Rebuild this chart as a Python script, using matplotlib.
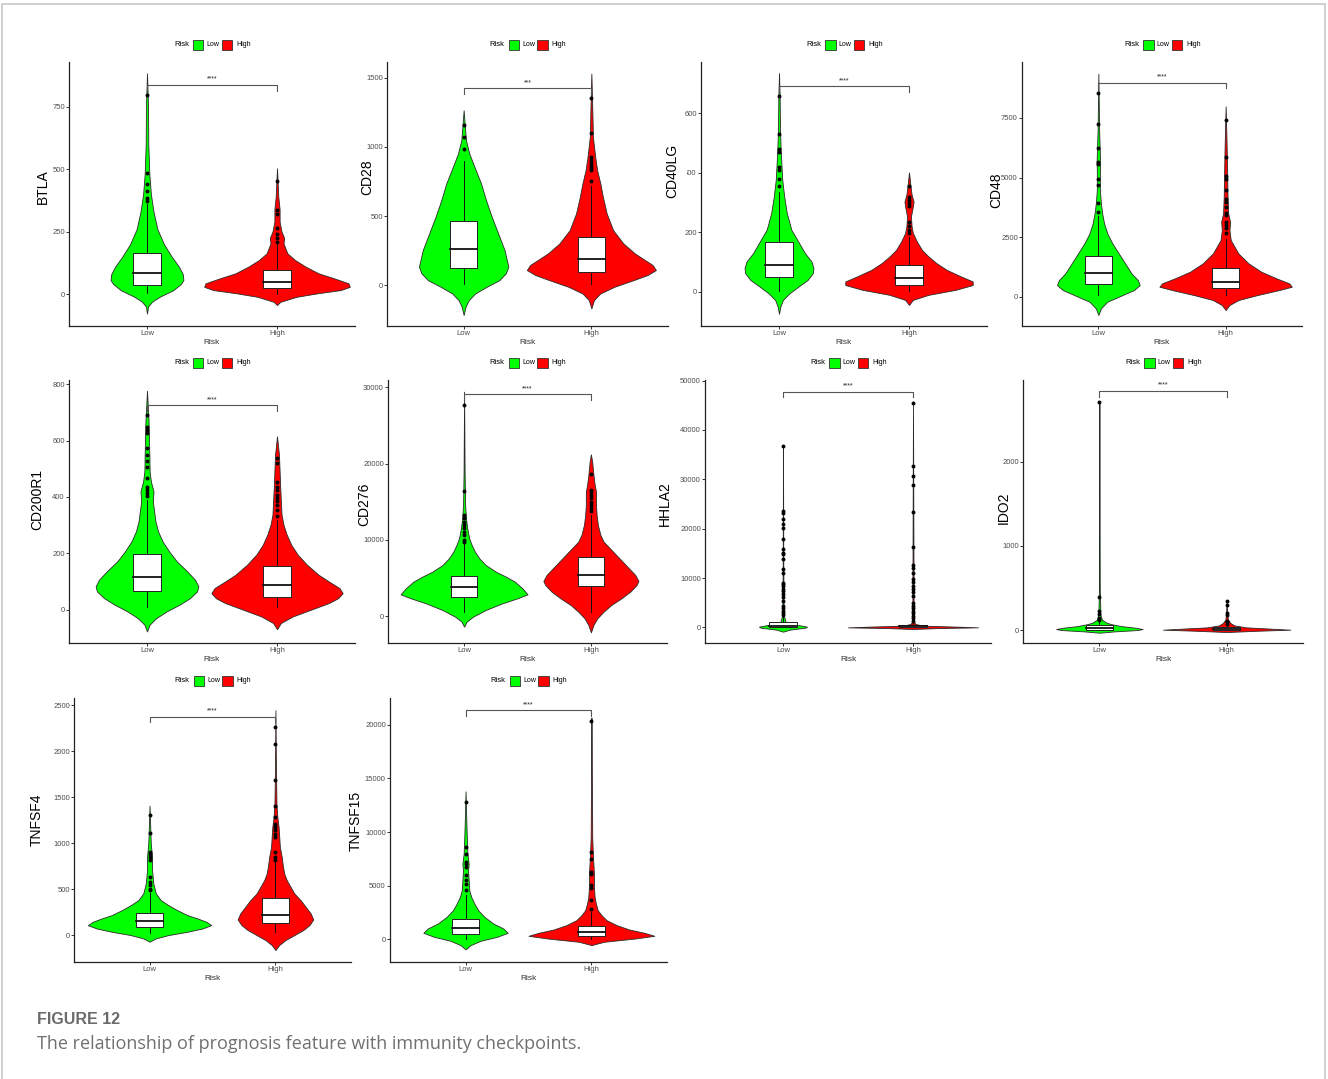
import matplotlib
matplotlib.use("Agg")
import matplotlib.pyplot as plt
from matplotlib.patches import Rectangle

# ==================================
# DATA
# ==================================
genes = ["BTLA", "CD28", "CD40LG", "CD48", "CD200R1",
         "CD276", "HHLA2", "IDO2", "TNFSF4", "TNFSF15"]
groups = ["Low", "High"]

y_limits = [(-128, 930), (-293, 1612), (-116, 773), (-1229, 9846), (-118, 815),
            (-3540, 30960), (-3170, 50130), (-154, 2968), (-293, 2579), (-2100, 22480)]

y_ticks = [[0, 250, 500, 750],
           [0, 500, 1000, 1500],
           [0, 200, 400, 600],
           [0, 2500, 5000, 7500],
           [0, 200, 400, 600, 800],
           [0, 10000, 20000, 30000],
           [0, 10000, 20000, 30000, 40000, 50000],
           [0, 1000, 2000],
           [0, 500, 1000, 1500, 2000, 2500],
           [0, 5000, 10000, 15000, 20000]]

sig_labels = ["****", "***", "****", "****", "****",
              "****", "****", "****", "****", "****"]
sig_heights = [838, 1421, 691, 8980, 725, 29081, 47779, 2838, 2377, 21329]

# box stats: q1, median, q3, lower whisker, upper whisker
box_low = [(36, 83, 166, 5, 360), (123, 264, 466, 10, 900), (49, 90, 166, 2, 335),
           (517, 1006, 1704, 70, 3400), (67, 116, 197, 9, 390),
           (2536, 3761, 5291, 481, 9400), (135, 336, 1009, 0, 2300),
           (4, 25, 55, 0, 120), (90, 155, 242, 18, 460), (464, 1082, 1947, 40, 4100)]
box_high = [(25, 47, 96, 2, 200), (99, 188, 351, 10, 720), (21, 45, 88, 1, 185),
            (349, 628, 1187, 70, 2440), (44, 86, 154, 9, 319),
            (3980, 5379, 7741, 568, 13300), (30, 200, 471, 0, 1130),
            (2, 16, 32, 0, 70), (134, 217, 401, 36, 800), (309, 711, 1236, 40, 2600)]

outliers_low = [
    [798, 485, 440, 415, 385, 372],
    [1160, 1070, 985],
    [657, 530, 481, 470, 420, 410, 380, 354],
    [8547, 7235, 6243, 5656, 5559, 4958, 4679, 3911, 3561],
    [692, 650, 638, 626, 573, 550, 526, 508, 469, 437, 425, 414, 402],
    [27682, 16400, 13250, 12813, 12376, 11939, 11501, 11064, 10627, 9971, 9665],
    [36810, 23553, 23216, 21870, 20860, 20188, 17968, 15814, 15141, 14805, 13930,
     11776, 11104, 9085, 8748, 8412, 7873, 7402, 6729, 6057, 5384, 4374, 3836,
     3365, 2894, 2490],
    [2704, 387, 221, 190, 142, 123],
    [1311, 1109, 903, 878, 849, 813, 632, 578, 542, 506, 488],
    [12766, 8594, 7975, 7202, 7048, 6739, 5966, 5502, 5193, 4575],
]
outliers_high = [
    [455, 335, 320, 265, 240, 225, 210],
    [1350, 1100, 925, 905, 880, 865, 850, 830, 755],
    [357, 320, 307, 298, 289, 235, 220, 208, 198],
    [7402, 5866, 5056, 4958, 4469, 4078, 3980, 3771, 3492, 3422, 3142, 3003, 2863, 2654],
    [538, 520, 453, 437, 425, 408, 396, 384, 372, 355, 331],
    [18673, 16531, 16312, 15875, 15437, 15000, 14563, 14125, 13775],
    [45558, 32638, 30753, 28937, 23351, 16353, 12584, 12113, 11104, 9758, 9219,
     8412, 7739, 7200, 6258, 4913, 4374, 3836, 3365, 2894, 2355, 1817, 1346],
    [340, 300, 202, 182, 111, 91, 71],
    [2265, 2077, 1691, 1402, 1282, 1210, 1174, 1138, 1102, 1066, 903, 849, 813],
    [20340, 8130, 7511, 6275, 6121, 5039, 4822, 3648, 2875],
]

# violin outlines: (value, half width in category units)
violin_low = [
    [(-78, 0), (-50, .008), (-30, .04), (-10, .10), (15, .20), (40, .26), (56, .28),
     (80, .275), (110, .245), (150, .19), (200, .13), (260, .08), (330, .05),
     (400, .03), (480, .018), (600, .01), (750, .008), (885, 0)],
    [(-214, 0), (-154, .015), (-106, .04), (-58, .09), (-10, .18), (38, .28), (87, .33),
     (135, .35), (255, .32), (375, .27), (495, .22), (615, .175), (736, .136),
     (856, .084), (952, .044), (1048, .018), (1264, 0)],
    [(-75, 0), (-51, .01), (-28, .03), (-6, .08), (17, .15), (39, .22), (62, .26),
     (79, .265), (101, .25), (129, .20), (163, .155), (208, .095), (264, .06),
     (320, .04), (376, .025), (433, .018), (489, .012), (545, .008), (657, .005), (736, 0)],
    [(-768, 0), (-489, .02), (-209, .07), (70, .19), (279, .28), (489, .325), (698, .31),
     (978, .26), (1397, .21), (1816, .16), (2235, .11), (2654, .07), (3073, .045),
     (3492, .03), (3911, .02), (4469, .012), (5307, .012), (5600, .014), (6983, .006),
     (9357, 0)],
    [(-77, 0), (-53, .02), (-30, .07), (-6, .15), (18, .25), (41, .33), (65, .385),
     (83, .395), (106, .37), (136, .31), (171, .23), (207, .17), (242, .12), (278, .085),
     (313, .065), (349, .055), (384, .045), (420, .05), (455, .03), (491, .02),
     (550, .018), (609, .015), (668, .012), (777, 0)],
    [(-1400, 0), (-743, .02), (-87, .07), (787, .17), (1662, .30), (2318, .42),
     (2843, .50), (3630, .46), (4504, .40), (5160, .33), (5816, .25), (6691, .17),
     (7565, .12), (8440, .085), (9315, .06), (10190, .04), (11501, .025),
     (12813, .015), (14563, .008), (18936, .004), (29431, 0)],
    [(-875, 0), (-470, .05), (-67, .17), (135, .185), (470, .12), (808, .05),
     (1144, .02), (1680, .015), (2355, .005), (13800, .002), (37000, 0)],
    [(-32, 0), (-16, .12), (0, .30), (12, .34), (28, .28), (47, .17), (71, .09),
     (91, .05), (123, .02), (182, .008), (498, .003), (2711, 0)],
    [(-72, 0), (-36, .05), (0, .15), (36, .30), (72, .42), (108, .49), (145, .45),
     (181, .38), (217, .30), (271, .22), (325, .15), (379, .09), (452, .05),
     (560, .03), (704, .02), (849, .02), (993, .01), (1409, 0)],
    [(-927, 0), (-525, .04), (-124, .12), (247, .25), (618, .335), (1020, .30),
     (1484, .22), (2102, .15), (2720, .10), (3338, .07), (3957, .045), (4575, .03),
     (5502, .025), (6430, .02), (7048, .025), (7975, .015), (9521, .01),
     (11066, .006), (13787, 0)],
]
violin_high = [
    [(-44, 0), (-31, .026), (-11, .15), (3, .31), (16, .49), (29, .56), (43, .55),
     (63, .44), (83, .32), (110, .22), (136, .14), (163, .08), (203, .05), (225, .055),
     (250, .035), (290, .02), (340, .02), (390, .01), (504, 0)],
    [(-166, 0), (-106, .02), (-58, .07), (-10, .18), (38, .33), (75, .44), (111, .505),
     (147, .48), (183, .42), (231, .34), (303, .25), (399, .17), (519, .12), (639, .09),
     (736, .07), (832, .045), (928, .03), (1072, .012), (1240, .008), (1529, 0)],
    [(-45, 0), (-28, .03), (-11, .15), (6, .36), (22, .49), (34, .49), (51, .40),
     (73, .29), (96, .21), (118, .15), (140, .10), (169, .06), (197, .03), (219, .02),
     (253, .015), (287, .03), (303, .035), (326, .02), (354, .012), (401, 0)],
    [(-559, 0), (-349, .03), (-140, .10), (70, .25), (279, .42), (419, .52), (559, .50),
     (768, .40), (1047, .28), (1397, .18), (1816, .10), (2095, .07), (2374, .04),
     (2793, .03), (3142, .035), (3492, .02), (4190, .015), (5168, .012), (6285, .008),
     (7989, 0)],
    [(-69, 0), (-47, .03), (-24, .12), (0, .26), (24, .40), (41, .47), (59, .505),
     (77, .48), (100, .40), (124, .32), (160, .23), (195, .16), (230, .11), (266, .075),
     (301, .05), (337, .035), (384, .03), (431, .025), (491, .02), (550, .015), (615, 0)],
    [(-2143, 0), (-1181, .02), (-306, .05), (568, .10), (1443, .16), (2318, .24),
     (3192, .31), (4067, .36), (4592, .375), (5379, .35), (6254, .30), (7128, .25),
     (8003, .20), (8877, .15), (9752, .10), (10627, .075), (11939, .055),
     (13250, .045), (14563, .04), (16312, .04), (17187, .03), (18498, .02),
     (20248, .01), (21210, 0)],
    [(-336, 0), (-135, .20), (0, .50), (135, .35), (336, .08), (673, .02), (1009, .01),
     (1680, .005), (45760, 0)],
    [(-24, 0), (-8, .25), (4, .50), (16, .35), (32, .15), (55, .06), (83, .03),
     (123, .01), (182, .005), (340, 0)],
    [(-163, 0), (-108, .03), (-54, .08), (0, .15), (54, .22), (108, .27), (170, .30),
     (235, .28), (307, .24), (379, .20), (452, .15), (524, .12), (596, .09), (668, .07),
     (741, .06), (849, .05), (957, .035), (1066, .03), (1174, .025), (1283, .015),
     (1427, .008), (1788, .004), (2446, 0)],
    [(-525, 0), (-216, .10), (93, .35), (340, .50), (618, .42), (927, .30), (1329, .20),
     (1793, .12), (2257, .08), (2720, .05), (3338, .035), (3957, .025), (4884, .02),
     (6121, .02), (7666, .012), (9521, .006), (15703, .003), (20649, 0)],
]

# ==================================
# LAYOUT (pixels)
# ==================================
W, H = 1328, 1079
panels = [(69, 62, 355, 326), (387, 62, 668, 326), (701, 62, 987, 326), (1022, 62, 1302, 326),
          (69, 380, 355, 643), (388, 380, 667, 643), (705, 380, 991, 643), (1023, 380, 1303, 643),
          (74, 698, 351, 962), (390, 698, 667, 962)]
ylabel_pos = [(43, 187), (367, 177), (672, 171), (996, 190), (37, 500),
              (364, 504), (665, 504), (1004, 508), (37, 820), (356, 821)]
legend_y = [45, 45, 45, 45, 363, 363, 363, 363, 681, 681]

FILL = {"Low": "#00FF00", "High": "#FF0000"}
FONT = "Liberation Sans"

plt.rcParams["font.family"] = [FONT, "DejaVu Sans"]

fig = plt.figure(figsize=(W / 100, H / 100), dpi=100)


def fx(x):
    return x / W


def fy(y):
    return 1 - y / H


def draw_violin(ax, x0, shape, color):
    ys = [p[0] for p in shape]
    ws = [p[1] for p in shape]
    ax.fill_betweenx(ys, [x0 - w for w in ws], [x0 + w for w in ws],
                     facecolor=color, edgecolor="#2a2a2a", linewidth=0.6, zorder=1)


def draw_box(ax, x0, stats, outl, bw=0.21):
    q1, med, q3, wlo, whi = stats
    ax.plot([x0, x0], [wlo, q1], color="#111111", lw=0.7, zorder=2)
    ax.plot([x0, x0], [q3, whi], color="#111111", lw=0.7, zorder=2)
    ax.add_patch(Rectangle((x0 - bw / 2, q1), bw, q3 - q1, facecolor="white",
                           edgecolor="#222222", lw=0.7, zorder=3))
    ax.plot([x0 - bw / 2, x0 + bw / 2], [med, med], color="#111111", lw=1.3, zorder=4)
    ax.scatter([x0] * len(outl), outl, s=8, color="black", linewidths=0, zorder=5)


for i, gene in enumerate(genes):
    l, t, r, b = panels[i]
    ax = fig.add_axes([fx(l), fy(b), fx(r - l), (b - t) / H])
    lo, hi = y_limits[i]
    rng = hi - lo

    draw_violin(ax, 1, violin_low[i], FILL["Low"])
    draw_violin(ax, 2, violin_high[i], FILL["High"])
    draw_box(ax, 1, box_low[i], outliers_low[i])
    draw_box(ax, 2, box_high[i], outliers_high[i])

    # significance bracket
    h = sig_heights[i]
    tip = 0.022 * rng
    ax.plot([1, 1, 2, 2], [h - tip, h, h, h - tip], color="#555555", lw=0.8, zorder=6)
    ax.text(1.5, h + 0.022 * rng, sig_labels[i], ha="center", va="center",
            fontsize=5, color="#222222")

    ax.set_xlim(0.4, 2.6)
    ax.set_ylim(lo, hi)
    ax.set_xticks([1, 2])
    ax.set_xticklabels(groups)
    ax.set_yticks(y_ticks[i])
    ax.set_yticklabels([str(v) for v in y_ticks[i]])
    for s in ["top", "right"]:
        ax.spines[s].set_visible(False)
    for s in ["left", "bottom"]:
        ax.spines[s].set_color("#222222")
        ax.spines[s].set_linewidth(0.9)
    ax.tick_params(length=2, width=0.7, color="#333333", pad=1,
                   labelsize=5.5, labelcolor="#4d4d4d")
    ax.set_xlabel("Risk", fontsize=6, labelpad=1.5, color="#333333")
    ax.patch.set_alpha(0)

    # y title
    yx, yy = ylabel_pos[i]
    fig.text(fx(yx), fy(yy), gene, rotation=90, ha="center", va="center",
             fontsize=10, color="black")

    # legend on top of each panel
    cx = (l + r) / 2
    ly = legend_y[i]
    fig.text(fx(cx - 23), fy(ly), "Risk", ha="right", va="center", fontsize=5.5)
    fig.patches.append(Rectangle((fx(cx - 19), fy(ly + 5.3)), fx(10.5), 10.6 / H,
                                 facecolor=FILL["Low"], edgecolor="#333333", lw=0.6,
                                 transform=fig.transFigure, figure=fig))
    fig.text(fx(cx - 5.5), fy(ly), "Low", ha="left", va="center", fontsize=5)
    fig.patches.append(Rectangle((fx(cx + 9.7), fy(ly + 5.3)), fx(10.5), 10.6 / H,
                                 facecolor=FILL["High"], edgecolor="#333333", lw=0.6,
                                 transform=fig.transFigure, figure=fig))
    fig.text(fx(cx + 24), fy(ly), "High", ha="left", va="center", fontsize=5)

# white patch sitting over part of the CD40LG "400" tick label
fig.patches.append(Rectangle((fx(680), fy(180)), fx(6.5), 14 / H, facecolor="white",
                             edgecolor="none", transform=fig.transFigure, figure=fig,
                             zorder=10))

# outer frame
fig.patches.append(Rectangle((fx(2), fy(1085)), fx(1323), 1081 / H, facecolor="none",
                             edgecolor="#c8c8c8", lw=1.2, transform=fig.transFigure,
                             figure=fig))

# caption
fig.text(fx(37), fy(1019), "FIGURE 12", ha="left", va="center", fontsize=11.5,
         fontweight="bold", color="#6a6a6a",
         family=["Liberation Sans Narrow", "Liberation Sans", "DejaVu Sans"])
fig.text(fx(37), fy(1044), "The relationship of prognosis feature with immunity checkpoints.",
         ha="left", va="center", fontsize=13, color="#707070",
         family=["Open Sans", "DejaVu Sans"])

fig.savefig("out.png", dpi=100, facecolor="white")
